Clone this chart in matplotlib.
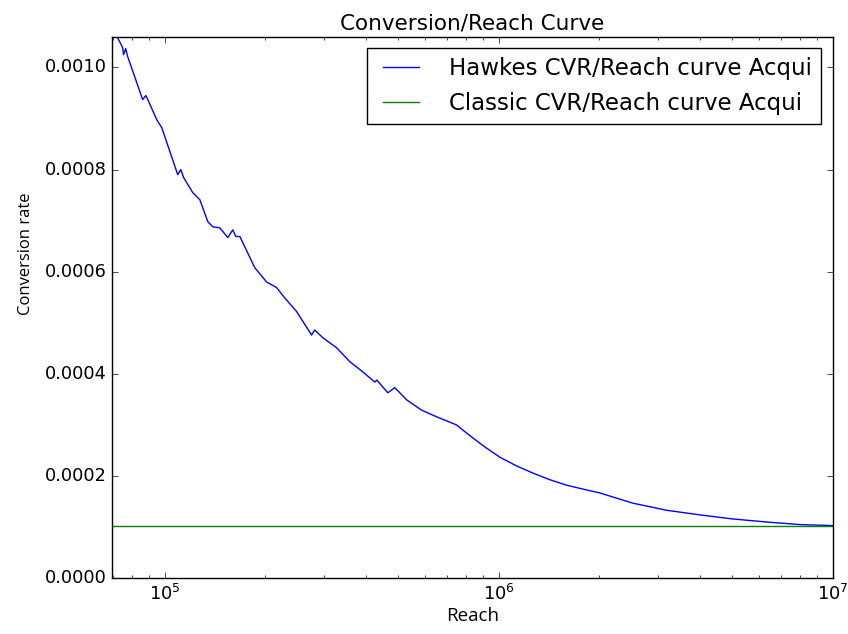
import matplotlib
matplotlib.use("Agg")
import matplotlib.pyplot as plt

# reach values and conversion rates of the Hawkes curve
reach = [69500, 74800, 75300, 76400, 77400, 85900, 87800, 89000, 94600, 98000,
         109400, 111700, 114000, 121300, 124700, 127400, 134600, 139300, 146200,
         154500, 159900, 163300, 167900, 186000, 201800, 216300, 228600, 248300,
         275300, 281100, 297200, 327300, 358100, 391700, 425500, 431500, 465500,
         488600, 530600, 587800, 651700, 748200, 801700, 900000, 1006900, 1130000,
         1264000, 1420000, 1599000, 1800000, 2006000, 2518000, 3184000, 3998000,
         5020000, 6345000, 7966000, 10000000]
hawkes_rate = [0.001080, 0.001039, 0.001025, 0.001037, 0.001022, 0.000937, 0.000945,
               0.000937, 0.000898, 0.000882, 0.000790, 0.000800, 0.000784, 0.000755,
               0.000747, 0.000741, 0.000698, 0.000688, 0.000686, 0.000667, 0.000682,
               0.000669, 0.000669, 0.000608, 0.000580, 0.000569, 0.000549, 0.000522,
               0.000476, 0.000486, 0.000471, 0.000451, 0.000424, 0.000404, 0.000384,
               0.000388, 0.000363, 0.000373, 0.000349, 0.000329, 0.000316, 0.000300,
               0.000284, 0.000259, 0.000237, 0.000220, 0.000206, 0.000193, 0.000182,
               0.000174, 0.000167, 0.000147, 0.000133, 0.000124, 0.000116, 0.000110,
               0.000105, 0.000103]

# classic curve is flat
classic_reach = [69500, 10000000]
classic_rate = [0.000103, 0.000103]

plt.style.use("classic")
fig = plt.figure(figsize=(8.48, 6.34), dpi=100, facecolor="white")
ax = fig.add_axes([0.132, 0.088, 0.850, 0.854])

ax.plot(reach, hawkes_rate, color="b", lw=1.0, label="Hawkes CVR/Reach curve Acqui")
ax.plot(classic_reach, classic_rate, color="g", lw=1.0, label="Classic CVR/Reach curve Acqui")

ax.set_xscale("log")
ax.set_xlim(69500, 10000000)
ax.set_ylim(0, 0.00106)
ax.set_yticks([0.0, 0.0002, 0.0004, 0.0006, 0.0008, 0.0010])
ax.tick_params(labelsize=12.8)

ax.set_title("Conversion/Reach Curve", fontsize=15.5)
ax.set_xlabel("Reach", fontsize=13.5, family="Open Sans", labelpad=2)
ax.set_ylabel("Conversion rate", fontsize=12, family="Open Sans")
ax.yaxis.set_label_coords(-0.108, 0.60)

ax.legend(loc="upper right", fontsize=16.5, handlelength=2.2, handletextpad=1.0)

fig.savefig("out.png", dpi=100, facecolor="white")
